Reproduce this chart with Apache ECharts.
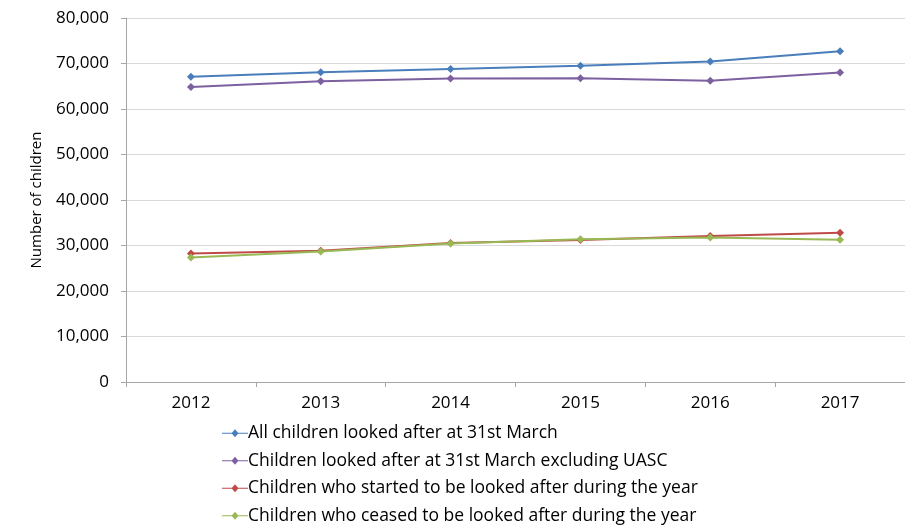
<!DOCTYPE html>
<html><head><meta charset="utf-8">
<script src="https://cdn.jsdelivr.net/npm/echarts@6/dist/echarts.min.js"></script>
<style>html,body{margin:0;padding:0;background:#fff}#c{width:905px;height:527px}</style>
</head><body><div id="c"></div>
<script>
const categories = ['2012','2013','2014','2015','2016','2017'];
const seriesNames = [
  'All children looked after at 31st March',
  'Children looked after at 31st March excluding UASC',
  'Children who started to be looked after during the year',
  'Children who ceased to be looked after during the year'
];
const allLooked = [67070, 68060, 68810, 69480, 70440, 72670];
const excludingUASC = [64860, 66120, 66730, 66750, 66200, 68000];
const started = [28220, 28830, 30540, 31220, 32090, 32810];
const ceased = [27350, 28670, 30430, 31350, 31750, 31250];
const colors = ['#4a7ebb', '#7d60a0', '#be4b48', '#98b954'];
const dataList = [allLooked, excludingUASC, started, ceased];

const font = '"Open Sans", "Liberation Sans", sans-serif';
const chart = echarts.init(document.getElementById('c'));
chart.setOption({
  animation: false,
  grid: { left: 126, top: 18, width: 786, height: 364, containLabel: false },
  legend: {
    orient: 'vertical', left: 222, top: 424, height: 110, padding: 0, itemGap: 9, itemWidth: 26, itemHeight: 18,
    textStyle: { fontFamily: font, fontSize: 17.5, lineHeight: 18.5, color: '#000', padding: [0,0,0,-5] },
    data: seriesNames.map((n, i) => ({ name: n, icon: 'path://M0,9 L26,9 L26,10 L0,10 Z M13,5.5 L16.5,9.5 L13,13.5 L9.5,9.5 Z' }))
  },
  xAxis: {
    type: 'category', data: categories, boundaryGap: true,
    axisLine: { lineStyle: { color: '#a6a6a6' } },
    axisTick: { show: true, length: 5, lineStyle: { color: '#a6a6a6' } },
    axisLabel: { fontFamily: font, fontSize: 17, color: '#000', margin: 13 }
  },
  yAxis: {
    type: 'value', min: 0, max: 80000, interval: 10000,
    name: 'Number of children', nameLocation: 'middle', nameGap: 82, nameRotate: 90,
    nameTextStyle: { fontFamily: font, fontSize: 15, color: '#000' },
    axisLine: { show: true, lineStyle: { color: '#a6a6a6' } },
    axisTick: { show: true, length: 5, lineStyle: { color: '#a6a6a6' } },
    axisLabel: { fontFamily: font, fontSize: 17, color: '#000', margin: 17,
      formatter: v => v.toLocaleString('en-US') },
    splitLine: { lineStyle: { color: '#d9d9d9' } }
  },
  series: dataList.map((d, i) => ({
    name: seriesNames[i], type: 'line', data: d,
    symbol: 'diamond', symbolSize: 8, showSymbol: true,
    lineStyle: { color: colors[i], width: 2 },
    itemStyle: { color: colors[i] }
  }))
});
</script></body></html>
